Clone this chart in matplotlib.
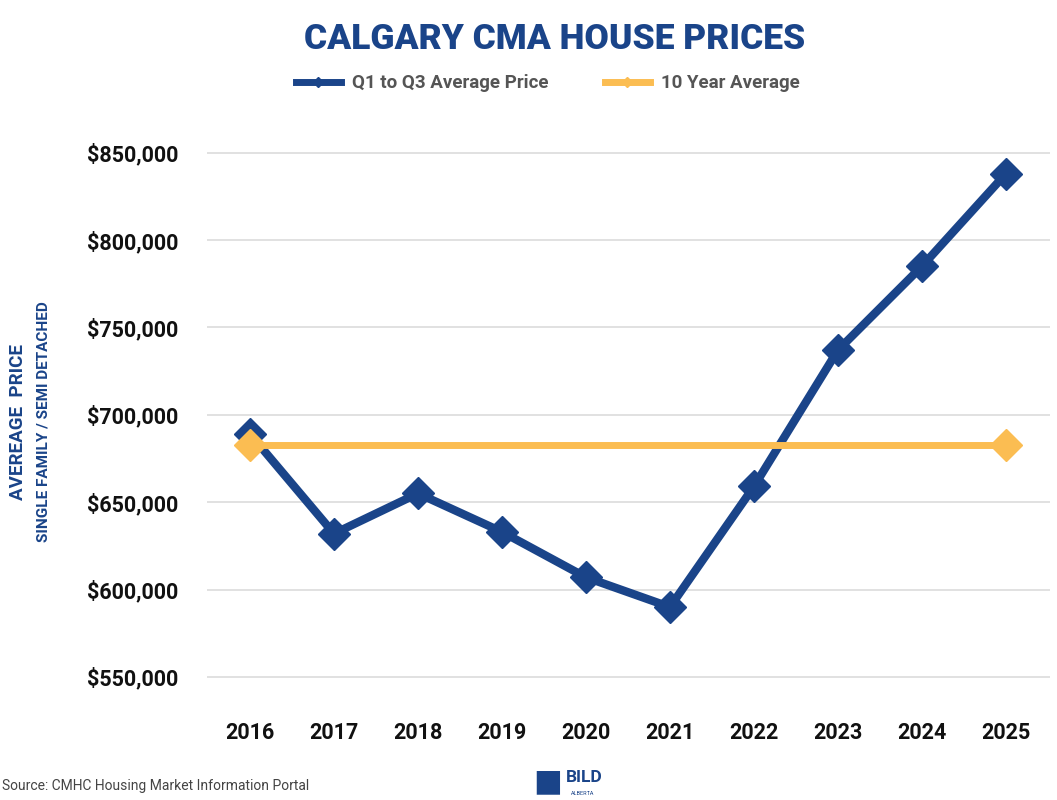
import matplotlib.pyplot as plt
from matplotlib.lines import Line2D

# data
years = [2016, 2017, 2018, 2019, 2020, 2021, 2022, 2023, 2024, 2025]
avg_price = [689000, 632000, 655000, 633000, 607000, 590000, 659000, 737000, 785000, 838000]
ten_year_years = [2016, 2025]
ten_year_avg = [683000, 683000]
y_ticks = [550000, 600000, 650000, 700000, 750000, 800000, 850000]

navy = '#1a4489'
gold = '#fbbd52'

plt.rcParams['font.family'] = ['Roboto', 'DejaVu Sans']

fig = plt.figure(figsize=(10.57, 8), dpi=100)
ax = fig.add_axes([0.196, 0.132, 0.797, 0.699])

ax.plot(years, avg_price, color=navy, linewidth=6, marker='D', markersize=16,
        zorder=3, clip_on=False)
ax.plot(ten_year_years, ten_year_avg, color=gold, linewidth=5, marker='D',
        markersize=16, zorder=4, clip_on=False)

ax.set_xlim(2015.49, 2025.52)
ax.set_ylim(540000, 860000)
ax.set_yticks(y_ticks)
ax.set_yticklabels(['${:,.0f}'.format(v) for v in y_ticks])
ax.set_xticks(years)
ax.set_xticklabels([str(y) for y in years])
ax.tick_params(axis='both', length=0, labelsize=15.5)
ax.tick_params(axis='y', pad=21)
ax.tick_params(axis='x', pad=20)
for lab in ax.get_xticklabels() + ax.get_yticklabels():
    lab.set_fontweight('bold')
    lab.set_color('#111111')

ax.grid(axis='y', color='#dcdcdc', linewidth=1.2)
ax.set_axisbelow(True)
for s in ax.spines.values():
    s.set_visible(False)

# 标题
fig.text(0.525, 0.951, 'CALGARY CMA HOUSE PRICES', ha='center', va='center',
         fontsize=25.5, fontweight='heavy', color=navy)

# 图例
handles = [
    Line2D([0], [0], color=navy, linewidth=5, marker='D', markersize=5),
    Line2D([0], [0], color=gold, linewidth=5, marker='D', markersize=5),
]
fig.legend(handles, ['Q1 to Q3 Average Price', '10 Year Average'],
           loc='center', bbox_to_anchor=(0.518, 0.896), ncol=2, frameon=False,
           handlelength=2.4, columnspacing=3.0, handletextpad=0.6,
           prop={'weight': 'bold', 'size': 13.5}, labelcolor='#555555')

# Y轴标签
fig.text(0.017, 0.473, 'AVEREAGE  PRICE', rotation=90, ha='center', va='center',
         fontsize=13.5, fontweight='bold', color=navy)
fig.text(0.041, 0.473, 'SINGLE FAMILY / SEMI DETACHED', rotation=90,
         ha='center', va='center', fontsize=11, fontweight='bold', color=navy)

# 来源
fig.text(0.002, 0.018, 'Source: CMHC Housing Market Information Portal',
         ha='left', va='center', fontsize=10, color='#444444')

# logo
fig.text(0.532, 0.023, '\u25A0', ha='right', va='center', fontsize=22, color=navy)
fig.text(0.535, 0.028, 'BILD', ha='left', va='center', fontsize=12.5,
         fontweight='bold', color=navy)
fig.text(0.540, 0.008, 'ALBERTA', ha='left', va='center', fontsize=4,
         color=navy)

fig.savefig('out.png', dpi=100)
